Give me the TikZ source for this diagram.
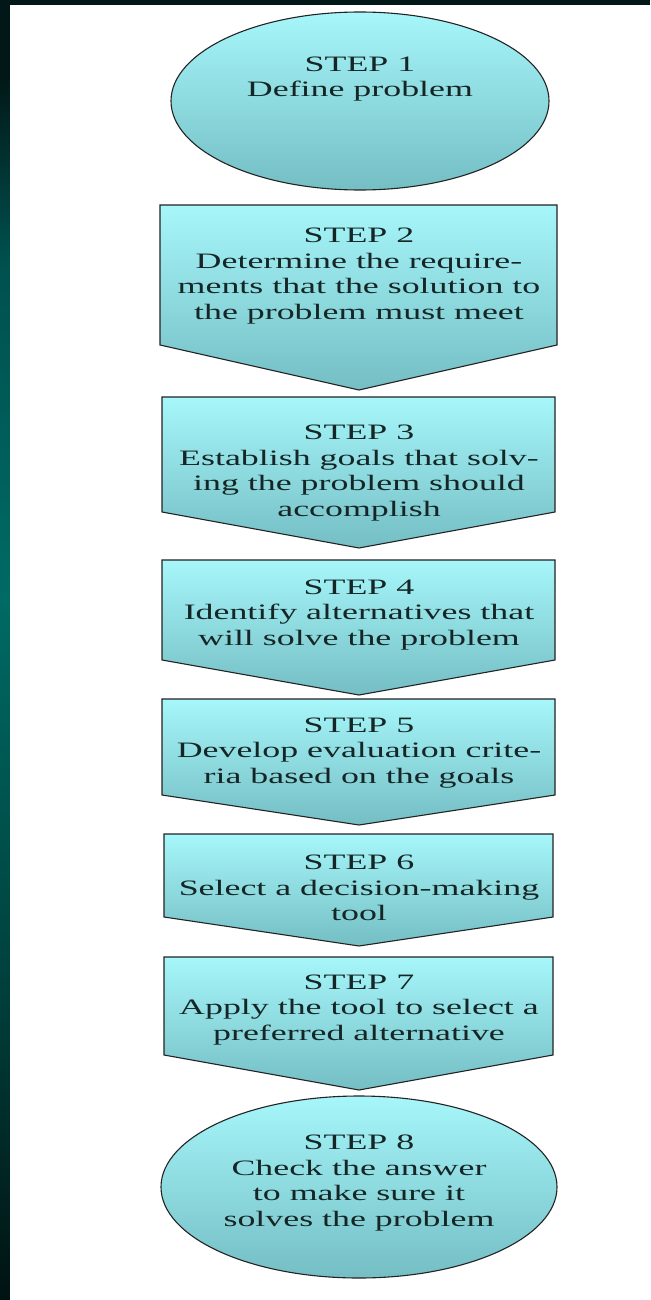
\documentclass[tikz,border=0pt]{standalone}
\usepackage{fontspec}
\setmainfont{Liberation Serif}[FakeStretch=1.63]
\definecolor{cyantop}{RGB}{166,246,250}
\definecolor{cyanbot}{RGB}{116,190,196}
\definecolor{bandtop}{RGB}{2,24,24}
\definecolor{stripupper}{RGB}{0,80,78}
\definecolor{stripmid}{RGB}{0,106,100}
\definecolor{striplower}{RGB}{0,62,58}
\definecolor{stripbot}{RGB}{1,18,18}
\definecolor{outline}{RGB}{35,35,35}
\definecolor{txt}{RGB}{22,38,38}
\pgfdeclareverticalshading{stripshade}{100bp}{color(0bp)=(stripbot); color(25bp)=(stripbot); color(36.5bp)=(striplower); color(52bp)=(stripmid); color(65bp)=(stripupper); color(72bp)=(bandtop); color(100bp)=(bandtop)}
\begin{document}
\begin{tikzpicture}[x=1pt,y=-1pt,
  stepshape/.style={draw=outline, line width=1.1pt, top color=cyantop, bottom color=cyanbot},
  steptext/.style={font=\fontsize{22}{25.5}\selectfont, align=center, text=txt, inner sep=0pt}]
\useasboundingbox (0,0) rectangle (650,1300);
% background
\fill[bandtop] (0,0) rectangle (650,5);
\shade[shading=stripshade] (0,0) rectangle (10,1300);
\fill[white] (10,5) rectangle (650,1300);
% step 1
\path[stepshape] (360,101) ellipse [x radius=189, y radius=89];
\node[steptext] (s1) at (360,79) {STEP 1\\Define problem};
% step 2
\path[stepshape] (160,205) -- (557,205) -- (557,345) -- (359,390) -- (160,345) -- cycle;
\node[steptext] (s2) at (359,276) {STEP 2\\Determine the require-\\ments that the solution to\\the problem must meet};
% step 3
\path[stepshape] (162,397) -- (555,397) -- (555,512) -- (359,548) -- (162,512) -- cycle;
\node[steptext] (s3) at (359,473) {STEP 3\\Establish goals that solv-\\ing the problem should\\accomplish};
% step 4
\path[stepshape] (162,560) -- (555,560) -- (555,660) -- (359,695) -- (162,660) -- cycle;
\node[steptext] (s4) at (359,615) {STEP 4\\Identify alternatives that\\will solve the problem};
% step 5
\path[stepshape] (162,699) -- (555,699) -- (555,795) -- (359,825) -- (162,795) -- cycle;
\node[steptext] (s5) at (359,753) {STEP 5\\Develop evaluation crite-\\ria based on the goals};
% step 6
\path[stepshape] (164,834) -- (553,834) -- (553,917) -- (359,946) -- (164,917) -- cycle;
\node[steptext] (s6) at (359,888) {STEP 6\\Select a decision-making\\tool};
% step 7
\path[stepshape] (164,957) -- (553,957) -- (553,1055) -- (359,1090) -- (164,1055) -- cycle;
\node[steptext] (s7) at (359,1010) {STEP 7\\Apply the tool to select a\\preferred alternative};
% step 8
\path[stepshape] (359,1187) ellipse [x radius=198, y radius=91];
\node[steptext] (s8) at (359,1183) {STEP 8\\Check the answer\\to make sure it\\solves the problem};
\end{tikzpicture}
\end{document}
